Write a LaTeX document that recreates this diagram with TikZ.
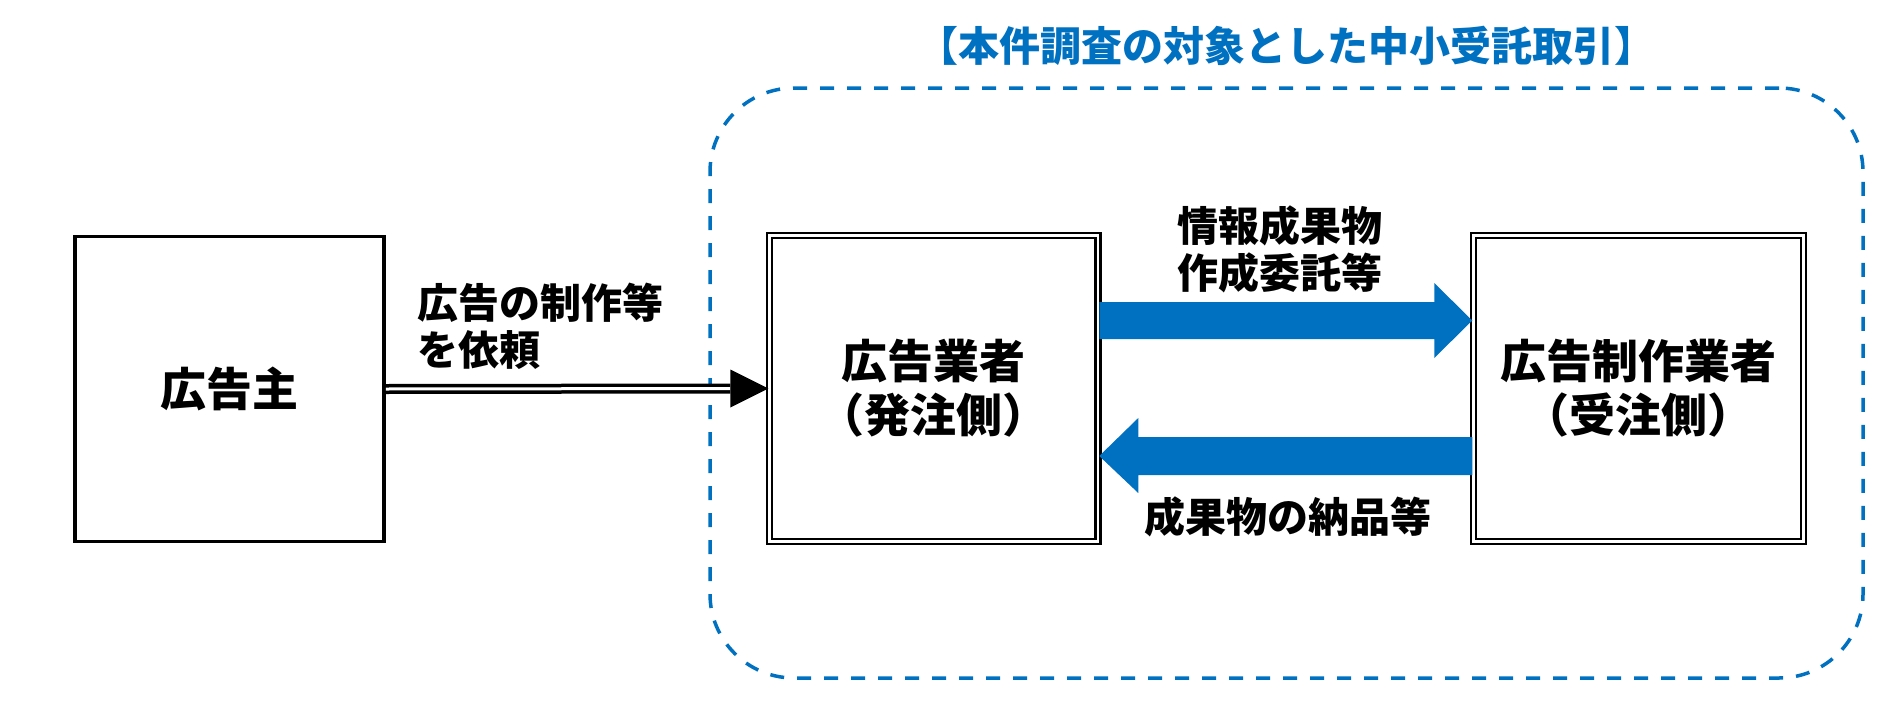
\documentclass[tikz,border=0pt]{standalone}
\usepackage{fontspec}
\setmainfont{Noto Sans CJK JP}
\usetikzlibrary{calc}
\definecolor{blu}{RGB}{0,112,192}
\begin{document}
\begin{tikzpicture}[x=1pt,y=-1pt,
  plainbox/.style={draw, line width=3.5pt, inner sep=0pt, align=center,
    font=\bfseries\fontsize{46}{54}\selectfont},
  dbox/.style={draw, double, double distance=2.5pt, line width=2.5pt, inner sep=0pt, align=center,
    font=\bfseries\fontsize{46}{54}\selectfont},
  lbl/.style={inner sep=0pt, font=\bfseries\fontsize{41}{47}\selectfont},
  dblline/.style={double, double distance=3pt, line width=3.5pt},
  frame/.style={draw=blu, line width=3.5pt, dash pattern=on 14pt off 13pt, rounded corners=84pt,
    inner sep=0pt},
  fat/.style={fill=blu}
]
\useasboundingbox (0,0) rectangle (1886,725);

% frame and title
\node[frame, minimum width=1153pt, minimum height=590pt] (frm) at (1286.5,383) {};
\node[lbl, text=blu, font=\bfseries\fontsize{41}{47}\selectfont] (ttl) at (1286,46) {【本件調査の対象とした中小受託取引】};

% boxes
\node[plainbox, minimum width=309pt, minimum height=305pt] (lft) at (229.5,389) {広告主};
\node[dbox, minimum width=328.5pt, minimum height=306pt] (b2) at (933.75,388.5) {広告業者\\（発注側）};
\node[dbox, minimum width=330pt, minimum height=306pt] (b3) at (1638.5,388.5) {広告制作業者\\（受注側）};

% double arrow
\draw[dblline] (lft.east) -- ([xshift=-38pt]b2.west);
\fill ([xshift=-38pt,yshift=19pt]b2.west) -- (b2.west) -- ([xshift=-38pt,yshift=-19pt]b2.west) -- cycle;
\node[lbl, anchor=west, align=left] (l1) at (417,326.5) {広告の制作等\\を依頼};

% upper fat arrow
\fill[fat] ([yshift=86.5pt]b2.east) -- ([xshift=-38pt,yshift=86.5pt]b3.west)
  -- ([xshift=-38pt,yshift=105.5pt]b3.west) -- ([yshift=68pt]b3.west)
  -- ([xshift=-38pt,yshift=30.5pt]b3.west) -- ([xshift=-38pt,yshift=49.5pt]b3.west)
  -- ([yshift=49.5pt]b2.east) -- cycle;
% lower fat arrow
\fill[fat] ([yshift=-48.5pt]b3.west) -- ([xshift=39pt,yshift=-48.5pt]b2.east)
  -- ([xshift=39pt,yshift=-29.5pt]b2.east) -- ([yshift=-67.5pt]b2.east)
  -- ([xshift=39pt,yshift=-104.5pt]b2.east) -- ([xshift=39pt,yshift=-86.5pt]b2.east)
  -- ([yshift=-86.5pt]b3.west) -- cycle;

\node[lbl, align=center] (l2) at (1280,249) {情報成果物\\作成委託等};
\node[lbl] (l3) at (1287.5,516.5) {成果物の納品等};
\end{tikzpicture}
\end{document}
